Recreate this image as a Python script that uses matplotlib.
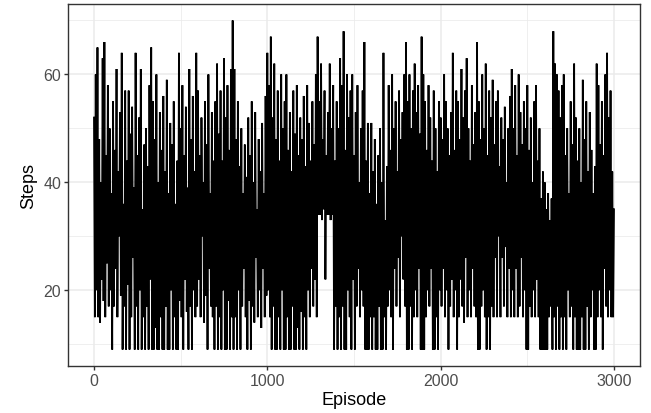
import numpy as np
import matplotlib
matplotlib.use("Agg")
import matplotlib.pyplot as plt
from matplotlib.ticker import MultipleLocator

steps_0000 = [52, 15, 60, 20, 65, 15, 48, 14, 40, 22, 63, 18, 66, 15, 45, 25, 58, 17, 50, 20]
steps_0100 = [38, 9, 55, 17, 46, 24, 61, 15, 42, 30, 53, 19, 64, 9, 36, 17, 57, 9, 44, 21]
steps_0200 = [57, 9, 49, 15, 54, 26, 39, 9, 64, 17, 45, 9, 52, 20, 61, 9, 35, 15, 47, 9]
steps_0300 = [50, 17, 43, 9, 58, 22, 65, 9, 55, 9, 48, 13, 60, 9, 40, 9, 53, 15, 46, 9]
steps_0400 = [56, 9, 42, 17, 59, 9, 38, 9, 51, 20, 47, 9, 55, 15, 36, 9, 44, 9, 64, 18]
steps_0500 = [50, 15, 58, 9, 45, 22, 54, 16, 39, 9, 61, 17, 48, 9, 56, 20, 42, 15, 64, 17]
steps_0600 = [57, 22, 45, 15, 52, 30, 40, 14, 55, 19, 47, 9, 60, 24, 38, 17, 53, 15, 44, 9]
steps_0700 = [55, 17, 62, 9, 49, 15, 57, 9, 44, 20, 63, 9, 52, 9, 58, 18, 46, 9, 61, 15]
steps_0800 = [70, 9, 61, 15, 48, 9, 55, 20, 43, 9, 50, 17, 38, 24, 47, 15, 41, 9, 52, 18]
steps_0900 = [45, 9, 55, 17, 40, 14, 53, 26, 35, 15, 48, 20, 42, 13, 51, 24, 38, 15, 56, 19]
steps_1000 = [64, 20, 58, 15, 67, 9, 52, 17, 62, 9, 48, 9, 57, 15, 44, 9, 60, 20, 50, 9]
steps_1100 = [55, 9, 60, 15, 46, 9, 53, 9, 42, 17, 57, 9, 49, 9, 58, 13, 45, 9, 52, 16]
steps_1200 = [48, 9, 56, 15, 43, 9, 58, 20, 51, 15, 44, 24, 55, 17, 47, 22, 60, 15, 67, 34]
steps_1300 = [55, 34, 62, 33, 48, 35, 57, 22, 45, 34, 53, 34, 62, 33, 50, 34, 58, 9, 44, 17]
steps_1400 = [55, 9, 50, 15, 63, 9, 58, 17, 68, 9, 46, 9, 60, 20, 52, 15, 57, 9, 60, 22]
steps_1500 = [45, 9, 53, 17, 58, 24, 40, 15, 50, 20, 57, 17, 66, 9, 44, 9, 51, 9, 38, 15]
steps_1600 = [51, 9, 42, 15, 48, 9, 36, 9, 45, 17, 50, 9, 40, 9, 64, 15, 33, 9, 43, 17]
steps_1700 = [58, 20, 46, 15, 60, 9, 50, 24, 55, 17, 42, 26, 57, 15, 48, 30, 53, 22, 60, 17]
steps_1800 = [66, 9, 55, 9, 60, 17, 50, 9, 57, 15, 62, 20, 53, 15, 58, 24, 49, 9, 67, 9]
steps_1900 = [60, 9, 55, 15, 46, 20, 58, 17, 52, 24, 44, 9, 57, 9, 50, 15, 42, 9, 55, 20]
steps_2000 = [52, 17, 48, 24, 60, 15, 55, 20, 50, 9, 45, 17, 53, 22, 64, 15, 46, 20, 57, 9]
steps_2100 = [55, 15, 48, 22, 61, 17, 52, 14, 57, 26, 63, 15, 50, 20, 44, 15, 58, 24, 47, 17]
steps_2200 = [53, 15, 66, 9, 55, 9, 48, 17, 60, 20, 50, 15, 62, 9, 45, 15, 57, 9, 52, 17]
steps_2300 = [59, 15, 47, 26, 55, 15, 57, 30, 43, 15, 52, 26, 48, 17, 54, 28, 40, 15, 50, 24]
steps_2400 = [56, 15, 61, 20, 50, 15, 58, 24, 45, 15, 60, 17, 53, 26, 47, 15, 55, 20, 50, 9]
steps_2500 = [58, 9, 46, 17, 52, 15, 40, 20, 55, 15, 58, 22, 44, 15, 50, 9, 37, 9, 42, 9]
steps_2600 = [40, 9, 35, 9, 38, 15, 33, 17, 37, 9, 68, 15, 62, 9, 60, 17, 57, 9, 52, 15]
steps_2700 = [58, 9, 60, 15, 45, 9, 50, 20, 38, 15, 55, 17, 47, 9, 62, 15, 52, 9, 44, 9]
steps_2800 = [50, 9, 40, 15, 59, 9, 48, 9, 55, 17, 42, 9, 53, 15, 46, 20, 38, 9, 43, 9]
steps_2900 = [62, 15, 58, 20, 47, 15, 55, 9, 45, 24, 60, 17, 64, 15, 52, 20, 57, 15, 42, 15]
steps_3000 = [35]

steps = (steps_0000 + steps_0100 + steps_0200 + steps_0300 + steps_0400 +
         steps_0500 + steps_0600 + steps_0700 + steps_0800 + steps_0900 +
         steps_1000 + steps_1100 + steps_1200 + steps_1300 + steps_1400 +
         steps_1500 + steps_1600 + steps_1700 + steps_1800 + steps_1900 +
         steps_2000 + steps_2100 + steps_2200 + steps_2300 + steps_2400 +
         steps_2500 + steps_2600 + steps_2700 + steps_2800 + steps_2900 +
         steps_3000)
episodes = list(range(0, 5 * len(steps), 5))

x_ticks = [0, 1000, 2000, 3000]
y_ticks = [20, 40, 60]

plt.rcParams['font.family'] = ['Liberation Sans', 'DejaVu Sans']

W, H = 651, 414
fig = plt.figure(figsize=(W / 100, H / 100), dpi=100)
fig.patch.set_facecolor('white')
ax = fig.add_axes([68 / W, (H - 367) / H, (640 - 68) / W, (367 - 5) / H])

ax.plot(episodes, steps, color='black', lw=1.3, solid_joinstyle='miter', zorder=3)

xmin, xmax = min(episodes), max(episodes)
ymin, ymax = min(steps), max(steps)
xr, yr = xmax - xmin, ymax - ymin
ax.set_xlim(xmin - 0.05 * xr, xmax + 0.05 * xr)
ax.set_ylim(ymin - 0.05 * yr, ymax + 0.05 * yr)

ax.set_xticks(x_ticks)
ax.set_yticks(y_ticks)
ax.set_xticklabels([str(t) for t in x_ticks])
ax.set_yticklabels([str(t) for t in y_ticks])
ax.xaxis.set_minor_locator(MultipleLocator(500))
ax.yaxis.set_minor_locator(MultipleLocator(10))

ax.set_facecolor('white')
ax.grid(True, which='major', color='#EBEBEB', lw=1.1, zorder=0)
ax.grid(True, which='minor', color='#EBEBEB', lw=0.55, zorder=0)
ax.set_axisbelow(True)

for s in ax.spines.values():
    s.set_color('#333333')
    s.set_linewidth(1.0)

ax.tick_params(axis='both', which='major', length=3, width=1.0, color='#333333',
               labelcolor='#4D4D4D', labelsize=11.5, pad=2)
ax.tick_params(axis='both', which='minor', length=0)

ax.set_xlabel('Episode', fontsize=13, color='black', labelpad=2)
ax.set_ylabel('Steps', fontsize=13, color='black', labelpad=4)

fig.savefig('out.png', dpi=100, facecolor='white')
